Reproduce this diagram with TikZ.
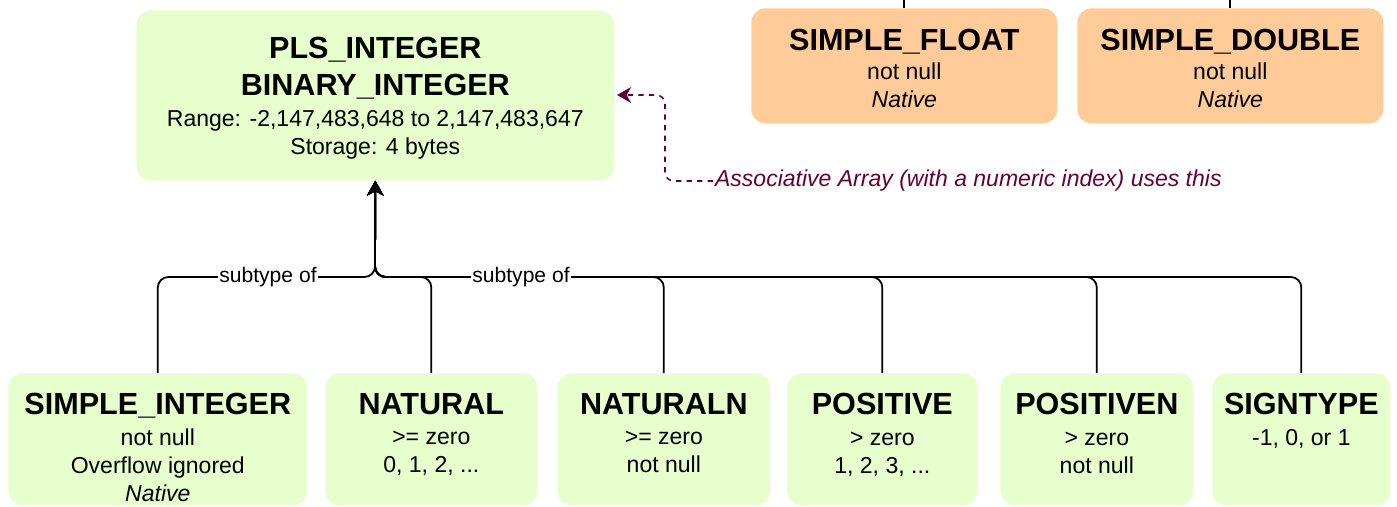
\documentclass[tikz,border=0pt]{standalone}
\usepackage{fontspec}
\setmainfont{Liberation Sans}
\usetikzlibrary{arrows.meta,calc}
\definecolor{typegreen}{HTML}{E6FFCC}
\definecolor{typeorange}{HTML}{FFCC99}
\definecolor{notered}{HTML}{660033}
\tikzset{
	greenbox/.style={rectangle, rounded corners=8pt, fill=typegreen, inner sep=0pt, anchor=north west},
	orangebox/.style={rectangle, rounded corners=8pt, fill=typeorange, inner sep=0pt, anchor=north west},
	boxtext/.style={anchor=north, align=center, inner sep=0pt, font=\fontsize{13.1}{15.9}\selectfont},
	link/.style={line width=1pt, rounded corners=6pt, -{Stealth[length=8.5pt,width=9.5pt,inset=2.5pt]}},
	sublabel/.style={fill=white, inner sep=1pt, font=\fontsize{12}{14}\selectfont},
	note/.style={notered, line width=0.9pt, dash pattern=on 3pt off 3pt, rounded corners=5pt, -{Stealth[length=8pt,width=9pt,inset=2.5pt]}}
}
\newcommand{\tname}[1]{{\fontsize{17.4}{21}\selectfont\bfseries #1}}
\begin{document}
\begin{tikzpicture}[x=0.02cm,y=-0.02cm]
	\useasboundingbox (0,0) rectangle (1397,507);
	% base type
	\node[greenbox, minimum width=9.56cm, minimum height=3.4cm] (pls) at (136,10) {};
	\node[boxtext] (pls-txt) at ($(pls.north)+(0,27)$) {\tname{PLS\_INTEGER}\\[4.9pt]\tname{BINARY\_INTEGER}\\[2pt]Range: -2,147,483,648 to 2,147,483,647\\Storage: 4 bytes};
	% native floating types
	\node[orangebox, minimum width=6.12cm, minimum height=2.3cm] (sfloat) at (751,8) {};
	\node[boxtext] (sfloat-txt) at ($(sfloat.north)+(0,21)$) {\tname{SIMPLE\_FLOAT}\\[0.6pt]not null\\\textit{Native}};
	\node[orangebox, minimum width=6.12cm, minimum height=2.3cm] (sdouble) at (1077,8) {};
	\node[boxtext] (sdouble-txt) at ($(sdouble.north)+(0,21)$) {\tname{SIMPLE\_DOUBLE}\\[0.6pt]not null\\\textit{Native}};
	\draw[line width=1pt] (sfloat.north) -- ++(0,-8);
	\draw[line width=1pt] (sdouble.north) -- ++(0,-8);
	% subtypes
	\node[greenbox, minimum width=5.98cm, minimum height=2.64cm] (sint) at (8,373) {};
	\node[boxtext] (sint-txt) at ($(sint.north)+(0,20)$) {\tname{SIMPLE\_INTEGER}\\[1.5pt]not null\\Overflow ignored\\\textit{Native}};
	\node[greenbox, minimum width=4.24cm, minimum height=2.64cm] (nat) at (325,373) {};
	\node[boxtext] (nat-txt) at ($(nat.north)+(0,20)$) {\tname{NATURAL}\\[1.5pt]>= zero\\0, 1, 2, ...};
	\node[greenbox, minimum width=4.26cm, minimum height=2.64cm] (natn) at (557,373) {};
	\node[boxtext] (natn-txt) at ($(natn.north)+(0,20)$) {\tname{NATURALN}\\[1.5pt]>= zero\\not null};
	\node[greenbox, minimum width=3.8cm, minimum height=2.64cm] (pos) at (787,373) {};
	\node[boxtext] (pos-txt) at ($(pos.north)+(0,20)$) {\tname{POSITIVE}\\[1.5pt]> zero\\1, 2, 3, ...};
	\node[greenbox, minimum width=3.86cm, minimum height=2.64cm] (posn) at (1000,373) {};
	\node[boxtext] (posn-txt) at ($(posn.north)+(0,20)$) {\tname{POSITIVEN}\\[1.5pt]> zero\\not null};
	\node[greenbox, minimum width=3.56cm, minimum height=2.64cm] (sign) at (1212,373) {};
	\node[boxtext] (sign-txt) at ($(sign.north)+(0,20)$) {\tname{SIGNTYPE}\\[1.5pt]-1, 0, or 1};
	% subtype of
	\coordinate (hub) at (375,277);
	\draw[link] (sint.north) |- (hub) -- (pls.south);
	\draw[link] (nat.north) |- (hub) -- (pls.south);
	\draw[link] (natn.north) |- (hub) -- (pls.south);
	\draw[link] (pos.north) |- (hub) -- (pls.south);
	\draw[link] (posn.north) |- (hub) -- (pls.south);
	\draw[link] (sign.north) |- (hub) -- (pls.south);
	\node[sublabel] (sub-l) at (268,277) {subtype of};
	\node[sublabel] (sub-r) at (521,277) {subtype of};
	% associative array note
	\node[anchor=west, inner sep=1pt, text=notered, font=\fontsize{13.1}{15.9}\selectfont\itshape] (assoc) at (713,181) {Associative Array (with a numeric index) uses this};
	\coordinate (note-tip) at (617,95);
	\draw[note] (assoc.west) -- (665,181) -- (665,95) -- (note-tip);
\end{tikzpicture}
\end{document}
